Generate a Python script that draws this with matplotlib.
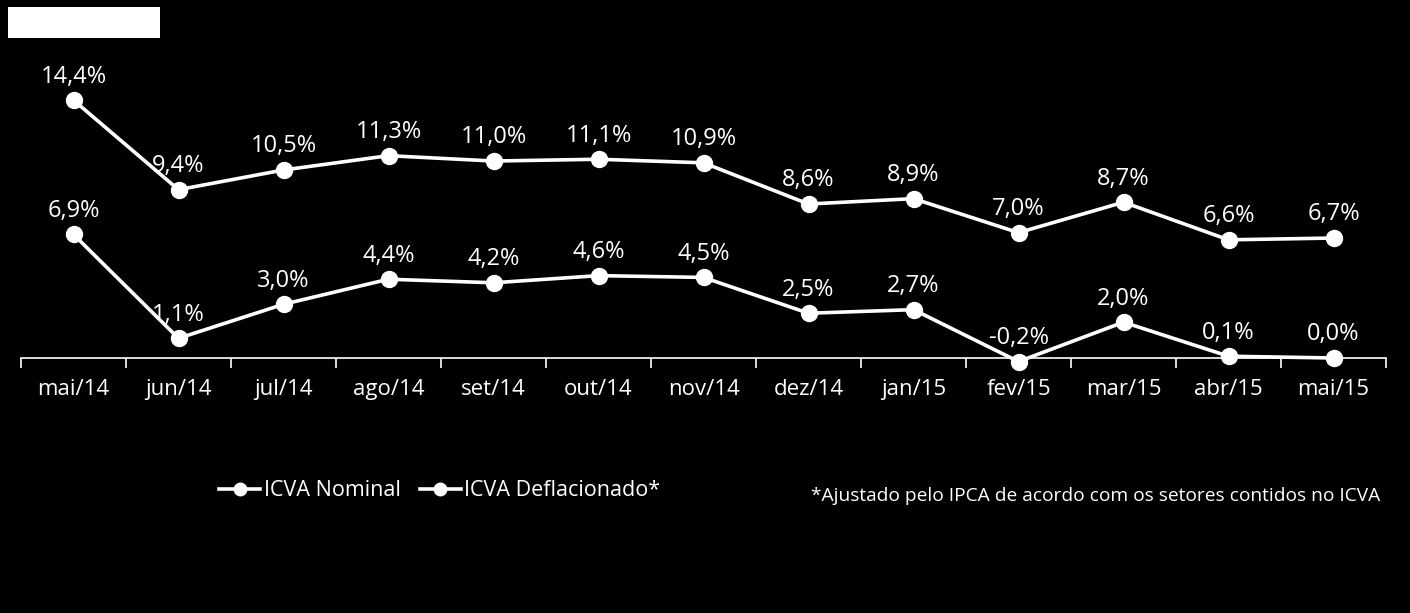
import matplotlib.pyplot as plt
from matplotlib.lines import Line2D
from matplotlib.patches import Rectangle

months = ['mai/14', 'jun/14', 'jul/14', 'ago/14', 'set/14', 'out/14', 'nov/14',
          'dez/14', 'jan/15', 'fev/15', 'mar/15', 'abr/15', 'mai/15']
nominal = [14.4, 9.4, 10.5, 11.3, 11.0, 11.1, 10.9, 8.6, 8.9, 7.0, 8.7, 6.6, 6.7]
deflated = [6.9, 1.1, 3.0, 4.4, 4.2, 4.6, 4.5, 2.5, 2.7, -0.2, 2.0, 0.1, 0.0]

plt.rcParams['font.family'] = ['Open Sans', 'DejaVu Sans']

W, H = 1410, 613
fig = plt.figure(figsize=(W / 100, H / 100), dpi=100, facecolor='black')

# axes placed in pixel terms: x from 21 to 1386, y from 40 to 400 (top-down)
ax = fig.add_axes([21 / W, 1 - 400 / H, (1386 - 21) / W, 360 / H])
ax.set_facecolor('black')

x = list(range(len(months)))
for vals in (nominal, deflated):
    ax.plot(x, vals, color='white', lw=2.6, marker='o', ms=11.5, zorder=3)
    for xi, v in zip(x, vals):
        ax.annotate(f'{v:.1f}%'.replace('.', ','), (xi, v), xytext=(0, 17),
                    textcoords='offset points', ha='center', va='center',
                    color='white', fontsize=17)

ax.set_xlim(-0.5, len(months) - 0.5)
ax.set_ylim(-2.346, 17.76)

for s in ('top', 'right', 'left'):
    ax.spines[s].set_visible(False)
ax.spines['bottom'].set_position(('data', 0))
ax.spines['bottom'].set_color('white')
ax.spines['bottom'].set_linewidth(1.2)
ax.set_yticks([])

ax.set_xticks(x)
ax.set_xticklabels(months, color='white', fontsize=16)
ax.tick_params(axis='x', which='major', length=0, pad=15)
ax.set_xticks([i - 0.5 for i in range(len(months) + 1)], minor=True)
ax.tick_params(axis='x', which='minor', length=7, width=1.2, color='white', direction='out')

# white box top-left
fig.patches.append(Rectangle((8 / W, 1 - 38 / H), 152 / W, 31 / H,
                             transform=fig.transFigure, facecolor='white',
                             edgecolor='none'))

handles = [Line2D([], [], color='white', lw=2.6, marker='o', ms=9),
           Line2D([], [], color='white', lw=2.6, marker='o', ms=9)]
fig.legend(handles, ['ICVA Nominal', 'ICVA Deflacionado*'], loc='center left',
           bbox_to_anchor=(200 / W, 1 - 491 / H), ncol=2, frameon=False,
           fontsize=15.5, labelcolor='white', handlelength=1.9,
           handletextpad=0.15, columnspacing=0.9)

fig.text(1380 / W, 1 - 496 / H, '*Ajustado pelo IPCA de acordo com os setores contidos no ICVA',
         color='white', fontsize=13.8, ha='right', va='center')

fig.savefig('out.png', dpi=100, facecolor='black')
